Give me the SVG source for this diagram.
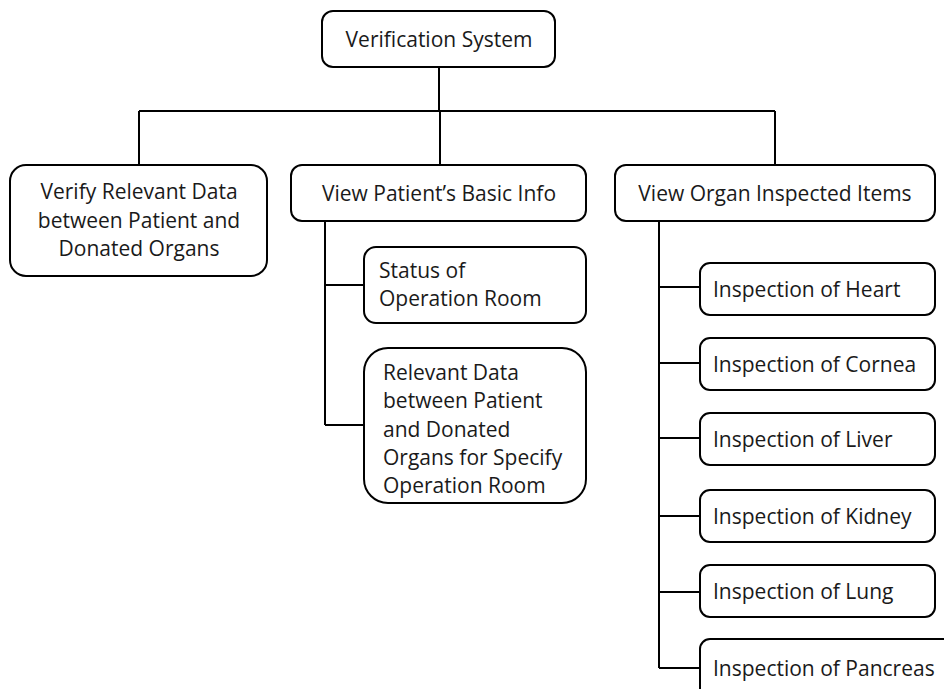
<svg xmlns="http://www.w3.org/2000/svg" width="944" height="689" viewBox="0 0 944 689">
<style>
.box{fill:#fff;stroke:#000;stroke-width:2}
.t{font-family:"Open Sans","Liberation Sans",sans-serif;font-size:21px;fill:#1a1a1a}
.c{text-anchor:middle}
.ln{fill:none;stroke:#000;stroke-width:2}
</style>
<rect width="944" height="689" fill="#fff"/>
<g id="connectors">
<path class="ln" d="M439 67V111M139 111H775M139 111V165M440 111V165M775 111V165"/>
<path class="ln" d="M325 221V425M325 285H364M325 425H364"/>
<path class="ln" d="M659 221V668M659 287H700M659 363H700M659 438H700M659 516H700M659 592H700M659 668H700"/>
</g>
<g id="root"><rect class="box" x="322" y="11" width="233" height="56" rx="11"/><text class="t c" x="439" y="47">Verification System</text></g>
<g id="verify"><rect class="box" x="10" y="165" width="257" height="111" rx="16"/><text class="t c" x="139" y="199">Verify Relevant Data</text><text class="t c" x="139" y="228">between Patient and</text><text class="t c" x="139" y="256">Donated Organs</text></g>
<g id="patient"><rect class="box" x="291" y="165" width="295" height="56" rx="11"/><text class="t c" x="439" y="201">View Patient’s Basic Info</text></g>
<g id="status"><rect class="box" x="364" y="247" width="222" height="76" rx="12"/><text class="t" x="379" y="278">Status of</text><text class="t" x="379" y="306">Operation Room</text></g>
<g id="relevant"><rect class="box" x="364" y="348" width="222" height="155" rx="24"/><text class="t" x="383" y="380">Relevant Data</text><text class="t" x="383" y="408">between Patient</text><text class="t" x="383" y="437">and Donated</text><text class="t" x="383" y="465">Organs for Specify</text><text class="t" x="383" y="493">Operation Room</text></g>
<g id="organ"><rect class="box" x="615" y="165" width="320" height="56" rx="11"/><text class="t c" x="775" y="201">View Organ Inspected Items</text></g>
<g id="heart"><rect class="box" x="700" y="263" width="235" height="52" rx="10"/><text class="t" x="713" y="297">Inspection of Heart</text></g>
<g id="cornea"><rect class="box" x="700" y="338" width="235" height="52" rx="10"/><text class="t" x="713" y="372">Inspection of Cornea</text></g>
<g id="liver"><rect class="box" x="700" y="413" width="235" height="52" rx="10"/><text class="t" x="713" y="447">Inspection of Liver</text></g>
<g id="kidney"><rect class="box" x="700" y="490" width="235" height="52" rx="10"/><text class="t" x="713" y="524">Inspection of Kidney</text></g>
<g id="lung"><rect class="box" x="700" y="565" width="235" height="52" rx="10"/><text class="t" x="713" y="599">Inspection of Lung</text></g>
<g id="pancreas"><rect class="box" x="700" y="639" width="260" height="60" rx="10"/><text class="t" x="713" y="676">Inspection of Pancreas</text></g>
</svg>
